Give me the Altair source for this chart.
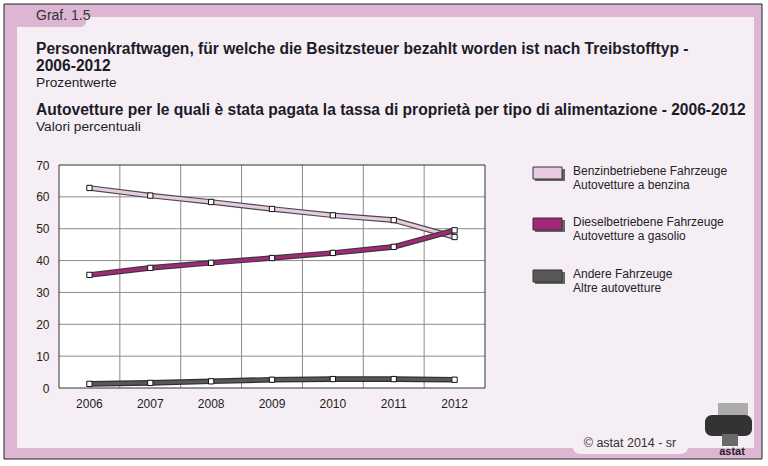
import altair as alt
import pandas as pd

years = ["2006", "2007", "2008", "2009", "2010", "2011", "2012"]
benzin = [62.8, 60.4, 58.4, 56.2, 54.2, 52.7, 47.4]
diesel = [35.5, 37.7, 39.3, 40.8, 42.4, 44.3, 49.5]
andere = [1.3, 1.6, 2.1, 2.6, 2.8, 2.8, 2.6]

series_keys = ["Benzin", "Diesel", "Andere"]
series_de = ["Benzinbetriebene Fahrzeuge", "Dieselbetriebene Fahrzeuge", "Andere Fahrzeuge"]
series_it = ["Autovetture a benzina", "Autovetture a gasolio", "Altre autovetture"]
inner_colors = ["#e8cbe0", "#a3287c", "#585858"]
outline_colors = ["#4a4a4a", "#3a3a3a", "#2e2e2e"]

y_ticks = [0, 10, 20, 30, 40, 50, 60, 70]

title_de = "Personenkraftwagen, für welche die Besitzsteuer bezahlt worden ist nach Treibstofftyp -"
title_de2 = "2006-2012"
sub_de = "Prozentwerte"
title_it = "Autovetture per le quali è stata pagata la tassa di proprietà per tipo di alimentazione - 2006-2012"
sub_it = "Valori percentuali"
graf_label = "Graf. 1.5"
copyright_text = "© astat 2014 - sr"

rows = []
for key, vals in zip(series_keys, [benzin, diesel, andere]):
    for yr, v in zip(years, vals):
        rows.append({"year": yr, "value": v, "series": key})
df = pd.DataFrame(rows)

# plot area geometry
W, H = 426, 223
PL, PT = 59, 165

one = pd.DataFrame({"k": [0]})
FONT = "Liberation Sans"
TXT = "#1c1c28"

xscale = alt.Scale(domain=years, paddingInner=0, paddingOuter=0)
yscale = alt.Scale(domain=[0, 70], nice=False)
x_axis = alt.Axis(labelAngle=0, domain=False, ticks=False, grid=False,
                  labelPadding=10, labelFont=FONT, labelFontSize=12,
                  labelColor="#222222", zindex=1, title=None)
y_axis = alt.Axis(values=y_ticks, domain=False, ticks=False, grid=False,
                  labelPadding=10, labelFont=FONT, labelFontSize=12,
                  labelColor="#222222", zindex=1, title=None)


def px(v):
    return alt.value(v - PL)


def py(v):
    return alt.value(v - PT)


def rect(x1, y1, x2, y2, fill, **kw):
    return alt.Chart(one).mark_rect(fill=fill, **kw).encode(
        x=px(x1), x2=px(x2), y=py(y1), y2=py(y2)
    )


def text(s, x, y, size=12, weight="normal", align="left", color=TXT):
    return alt.Chart(one).mark_text(
        align=align, baseline="middle", font=FONT, fontSize=size,
        fontWeight=weight, color=color
    ).encode(x=px(x), y=py(y), text=alt.value(s))


PINK = "#dcb6d3"
LIGHT = "#f6eef5"

layers = [
    rect(4, 4, 762, 459, PINK, stroke="#222222", strokeWidth=1),
    rect(17, 17, 754, 448, LIGHT),
    rect(17, 16, 86, 27, PINK, cornerRadiusBottomRight=9),
    rect(573, 440, 688, 454, LIGHT, cornerRadiusBottomLeft=7, cornerRadiusBottomRight=7),
    rect(PL, PT, PL + W, PT + H, "#ffffff"),
    text(graf_label, 36, 16, size=14, color="#333333"),
    text(title_de, 36, 49, size=15.6, weight="bold"),
    text(title_de2, 36, 66, size=15.6, weight="bold"),
    text(sub_de, 36, 83, size=13.7),
    text(title_it, 36, 110, size=15.6, weight="bold"),
    text(sub_it, 36, 127, size=13.7),
    text(copyright_text, 630, 443, size=12.5, align="center", color="#333333"),
    # logo approximation
    rect(718, 403, 748, 417, "#9a9a9a", opacity=0.8),
    rect(705, 415, 752, 436, "#333333", cornerRadius=7),
    rect(722, 434, 738, 446, "#6a6a6a"),
    text("astat", 732, 452, size=11, weight="bold", align="center", color="#222222"),
]

# legend
legend_centers = [173, 224, 276]
for i in range(3):
    c = legend_centers[i]
    layers.append(rect(535, c - 4, 565, c + 8, "#666666"))
    layers.append(rect(533, c - 6, 562, c + 6, inner_colors[i], stroke="#333333", strokeWidth=1))
    layers.append(text(series_de[i], 573, c - 2, size=12, color="#222222"))
    layers.append(text(series_it[i], 573, c + 12, size=12, color="#222222"))

# grid lines through scales
grid_h = alt.Chart(pd.DataFrame({"value": y_ticks[1:-1]})).mark_rule(
    color="#8c8c8c", strokeWidth=1
).encode(y=alt.Y("value:Q", scale=yscale, axis=y_axis))
grid_v = alt.Chart(pd.DataFrame({"year": years[1:]})).mark_rule(
    color="#8c8c8c", strokeWidth=1
).encode(x=alt.X("year:N", bandPosition=0, scale=xscale, axis=x_axis))
layers += [grid_h, grid_v]

# plot border
layers.append(rect(PL, PT, PL + W, PT + H, "transparent", stroke="#333333", strokeWidth=1, fillOpacity=0))

enc = dict(
    x=alt.X("year:N", scale=xscale, axis=x_axis),
    y=alt.Y("value:Q", scale=yscale, axis=y_axis),
)

# series lines (andere, benzin, diesel)
for idx in [2, 0, 1]:
    key = series_keys[idx]
    base = alt.Chart(df).transform_filter(alt.datum.series == key)
    layers.append(base.mark_line(color=outline_colors[idx], strokeWidth=5.6, strokeCap="butt").encode(**enc))
    layers.append(base.mark_line(color=inner_colors[idx], strokeWidth=3.2, strokeCap="butt").encode(**enc))

markers = alt.Chart(df).mark_square(
    size=28, filled=True, color="#ffffff", stroke="#111111", strokeWidth=1, opacity=1
).encode(**enc)
layers.append(markers)

chart = alt.layer(*layers).properties(
    width=W, height=H,
    autosize=alt.AutoSizeParams(type="none"),
    padding={"left": PL, "top": PT, "right": 768 - PL - W, "bottom": 466 - PT - H},
    background="#ffffff",
).configure_view(stroke=None)

chart.save("out.html", embed_options={"renderer": "svg", "actions": False})
